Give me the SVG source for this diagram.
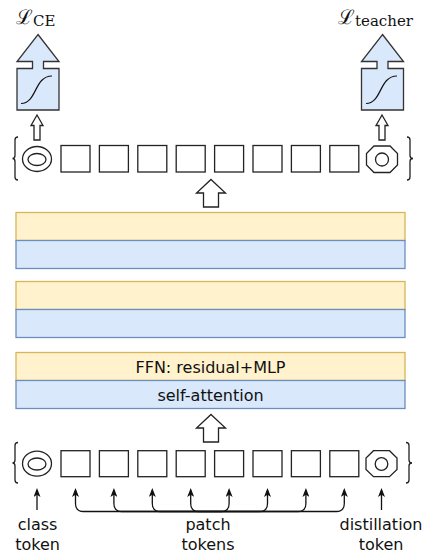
<svg xmlns="http://www.w3.org/2000/svg" width="427" height="555" viewBox="0 0 427 555">
<defs>
<style>
.tok{fill:#fff;stroke:#222;stroke-width:1.3}
.brace{fill:none;stroke:#222;stroke-width:1.3}
.ffn{fill:#fff2cc;stroke:#d6b656;stroke-width:1.3}
.sa{fill:#dae8fc;stroke:#6c8ebf;stroke-width:1.3}
.blk{fill:#fff;stroke:#222;stroke-width:1.3;stroke-linejoin:miter}
.sig{fill:#dae8fc;stroke:#333;stroke-width:1.3}
.sigc{fill:none;stroke:#111;stroke-width:1.2}
.lbl{font-family:"DejaVu Sans","Verdana",sans-serif;font-size:16px;fill:#111;text-anchor:middle}
.math{font-family:"DejaVu Serif","Liberation Serif",serif;fill:#111}
.con{fill:none;stroke:#111;stroke-width:1.3}
</style>
<marker id="ah" markerUnits="userSpaceOnUse" viewBox="0 0 9 7" markerWidth="9" markerHeight="7" refX="7" refY="3.5" orient="auto">
<path d="M0 0 L9 3.5 L0 7 L2.2 3.5 Z" fill="#111"/>
</marker>
</defs>

<!-- losses -->
<g id="loss-ce">
<text class="math" x="16" y="24" font-size="20">ℒ<tspan font-size="15" dy="2">CE</tspan></text>
</g>
<g id="loss-teacher">
<text class="math" x="338" y="24" font-size="20">ℒ<tspan font-size="15" dy="2">teacher</tspan></text>
</g>

<!-- sigmoid heads -->
<g id="head-ce">
<polygon class="sig" points="38,34.5 59,61.5 43.5,61.5 43.5,68.5 59,68.5 59,110 17,110 17,68.5 32.5,68.5 32.5,61.5 17,61.5"/>
<path class="sigc" d="M21 103.5 C37 103.5 34 76 52 76"/>
</g>
<g id="head-teacher">
<polygon class="sig" points="382.5,34.5 403.5,61.5 388,61.5 388,68.5 403.5,68.5 403.5,110 361.5,110 361.5,68.5 377,68.5 377,61.5 361.5,61.5"/>
<path class="sigc" d="M366 103.5 C382 103.5 379 76 397 76"/>
</g>

<!-- small arrows to heads -->
<g id="arrow-ce">
<polygon class="blk" points="37,115 43,125.5 40,125.5 40,140 34,140 34,125.5 31,125.5"/>
</g>
<g id="arrow-teacher">
<polygon class="blk" points="382,115 388,125.5 385,125.5 385,140 379,140 379,125.5 376,125.5"/>
</g>

<!-- output tokens -->
<g id="output-tokens">
<path class="brace" d="M18 137 Q15 137 15 140 V155.5 Q15 158.5 12.5 158.5 Q15 158.5 15 161.5 V177 Q15 180 18 180"/>
<ellipse class="tok" cx="37" cy="159" rx="14.5" ry="12.5"/>
<ellipse class="tok" cx="37" cy="159.5" rx="9" ry="6"/>
<rect class="tok" x="61" y="145.5" width="29" height="26.5"/>
<rect class="tok" x="99.4" y="145.5" width="29" height="26.5"/>
<rect class="tok" x="137.8" y="145.5" width="29" height="26.5"/>
<rect class="tok" x="176.2" y="145.5" width="29" height="26.5"/>
<rect class="tok" x="214.6" y="145.5" width="29" height="26.5"/>
<rect class="tok" x="253" y="145.5" width="29" height="26.5"/>
<rect class="tok" x="291.4" y="145.5" width="29" height="26.5"/>
<rect class="tok" x="329.8" y="145.5" width="29" height="26.5"/>
<polygon class="tok" points="374,146 390,146 397.5,153.5 397.5,165 390,172.5 374,172.5 366.5,165 366.5,153.5"/>
<circle class="tok" cx="382" cy="159.5" r="6.5"/>
<path class="brace" d="M407 137 Q410 137 410 140 V155.5 Q410 158.5 413 158.5 Q410 158.5 410 161.5 V177 Q410 180 407 180"/>
</g>

<!-- block arrow top -->
<g id="arrow-top">
<polygon class="blk" points="211,179.5 225.5,193 218.5,193 218.5,207 203.5,207 203.5,193 196.5,193"/>
</g>

<!-- transformer layers -->
<g id="layer-3">
<rect class="ffn" x="16" y="212.5" width="389" height="28"/>
<rect class="sa" x="16" y="240.5" width="389" height="28"/>
</g>
<g id="layer-2">
<rect class="ffn" x="16" y="281.5" width="389" height="28"/>
<rect class="sa" x="16" y="309.5" width="389" height="28"/>
</g>
<g id="layer-1">
<rect class="ffn" x="16" y="352.5" width="389" height="28"/>
<text class="lbl" x="210.5" y="372.5">FFN: residual+MLP</text>
<rect class="sa" x="16" y="380.5" width="389" height="28"/>
<text class="lbl" x="210.5" y="400.5">self-attention</text>
</g>

<!-- block arrow bottom -->
<g id="arrow-bottom">
<polygon class="blk" points="211,414.5 225.5,428 218.5,428 218.5,442 203.5,442 203.5,428 196.5,428"/>
</g>

<!-- input tokens -->
<g id="input-tokens">
<path class="brace" d="M18 442.5 Q15 442.5 15 445.5 V460 Q15 463 12.5 463 Q15 463 15 466 V480 Q15 483 18 483"/>
<ellipse class="tok" cx="37" cy="463.7" rx="14.5" ry="12.5"/>
<ellipse class="tok" cx="37" cy="464" rx="9" ry="6"/>
<rect class="tok" x="61" y="450.7" width="29" height="26"/>
<rect class="tok" x="99.4" y="450.7" width="29" height="26"/>
<rect class="tok" x="137.8" y="450.7" width="29" height="26"/>
<rect class="tok" x="176.2" y="450.7" width="29" height="26"/>
<rect class="tok" x="214.6" y="450.7" width="29" height="26"/>
<rect class="tok" x="253" y="450.7" width="29" height="26"/>
<rect class="tok" x="291.4" y="450.7" width="29" height="26"/>
<rect class="tok" x="329.8" y="450.7" width="29" height="26"/>
<polygon class="tok" points="373.5,450.7 389.5,450.7 397,458 397,469.5 389.5,476.7 373.5,476.7 366,469.5 366,458"/>
<circle class="tok" cx="381.5" cy="464" r="6.3"/>
<path class="brace" d="M406 442.5 Q409 442.5 409 445.5 V460 Q409 463 412 463 Q409 463 409 466 V480 Q409 483 406 483"/>
</g>

<!-- labels -->
<g id="label-class">
<text class="lbl" x="37.5" y="529.5">class</text>
<text class="lbl" x="37.5" y="549.5">token</text>
</g>
<g id="label-patch">
<text class="lbl" x="208" y="529.5">patch</text>
<text class="lbl" x="208" y="549.5">tokens</text>
</g>
<g id="label-distillation">
<text class="lbl" x="381" y="529.5">distillation</text>
<text class="lbl" x="381" y="549.5">token</text>
</g>

<!-- connectors -->
<g id="connectors">
<path class="con" marker-end="url(#ah)" d="M37 510 V490"/>
<path class="con" marker-end="url(#ah)" d="M381.5 510 V490"/>
<path class="con" marker-end="url(#ah)" d="M209 511.5 H83.5 Q75.5 511.5 75.5 503.5 V490"/>
<path class="con" marker-end="url(#ah)" d="M209 511.5 H121.9 Q113.9 511.5 113.9 503.5 V490"/>
<path class="con" marker-end="url(#ah)" d="M209 511.5 H160.3 Q152.3 511.5 152.3 503.5 V490"/>
<path class="con" marker-end="url(#ah)" d="M209 511.5 H198.7 Q190.7 511.5 190.7 503.5 V490"/>
<path class="con" marker-end="url(#ah)" d="M209 511.5 H221.1 Q229.1 511.5 229.1 503.5 V490"/>
<path class="con" marker-end="url(#ah)" d="M209 511.5 H259.5 Q267.5 511.5 267.5 503.5 V490"/>
<path class="con" marker-end="url(#ah)" d="M209 511.5 H297.9 Q305.9 511.5 305.9 503.5 V490"/>
<path class="con" marker-end="url(#ah)" d="M209 511.5 H336.3 Q344.3 511.5 344.3 503.5 V490"/>
</g>
</svg>
